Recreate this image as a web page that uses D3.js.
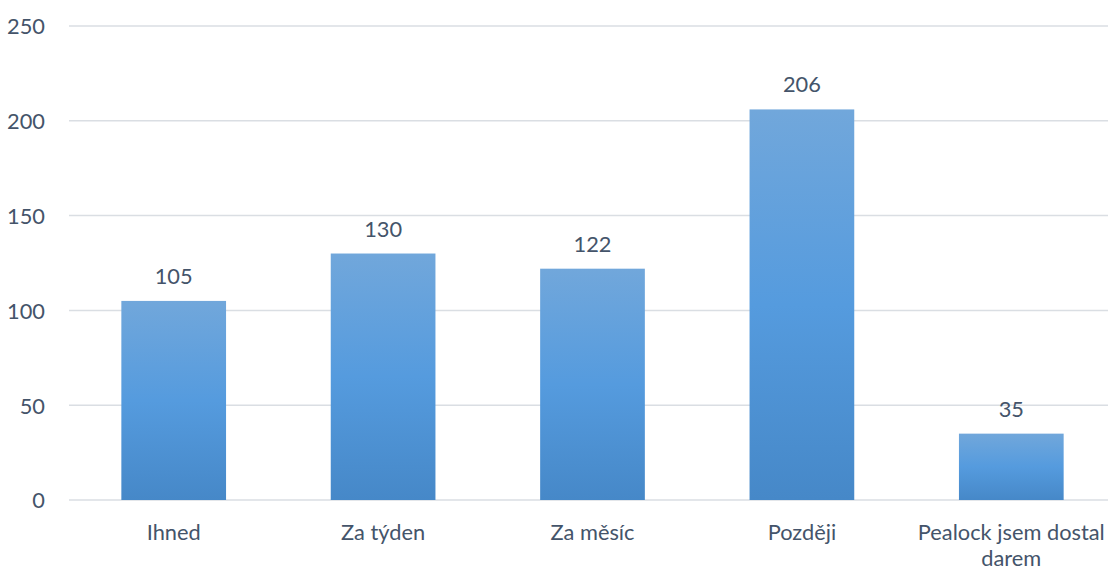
<!DOCTYPE html>
<html>
<head>
<meta charset="utf-8">
<script src="https://cdn.jsdelivr.net/npm/d3@7"></script>
<style>
  html, body { margin: 0; padding: 0; background: #fff; }
  svg { display: block; }
  text { font-family: Lato, "Open Sans", sans-serif; fill: #44546a; }
</style>
</head>
<body>
<svg id="chart" width="1108" height="572"></svg>
<script>
// Responses per category
const categories = ["Ihned", "Za týden", "Za měsíc", "Později", "Pealock jsem dostal darem"];
const values = [105, 130, 122, 206, 35];
const yTicks = [0, 50, 100, 150, 200, 250];

const width = 1108, height = 572;
const plot = { left: 69, right: 1116, top: 26, bottom: 500 };
const fontSize = 21.8;

const svg = d3.select("#chart");

const x = d3.scaleBand()
  .domain(categories)
  .range([plot.left, plot.right])
  .paddingInner(0.5)
  .paddingOuter(0.25);

const y = d3.scaleLinear()
  .domain([0, 250])
  .range([plot.bottom, plot.top]);

// Vertical gradient shared by all bars (objectBoundingBox units)
const defs = svg.append("defs");
const grad = defs.append("linearGradient")
  .attr("id", "barFill")
  .attr("x1", 0).attr("y1", 0).attr("x2", 0).attr("y2", 1);
grad.append("stop").attr("offset", "0%").attr("stop-color", "#71a7db");
grad.append("stop").attr("offset", "50%").attr("stop-color", "#559bde");
grad.append("stop").attr("offset", "100%").attr("stop-color", "#4688c8");

// Horizontal gridlines
svg.append("g")
  .selectAll("line")
  .data(yTicks)
  .join("line")
  .attr("x1", plot.left)
  .attr("x2", plot.right)
  .attr("y1", d => y(d))
  .attr("y2", d => y(d))
  .attr("stroke", "#dadee3")
  .attr("stroke-width", 1.5);

// Y axis labels
const yAxis = d3.axisLeft(y).tickValues(yTicks).tickSize(0).tickPadding(0);
const gy = svg.append("g")
  .attr("transform", `translate(${45},0)`)
  .call(yAxis);
gy.select(".domain").remove();
gy.selectAll("text")
  .attr("font-size", fontSize)
  .attr("font-family", null)
  .attr("dy", "0.36em")
  .attr("fill", "#44546a");

// Bars
svg.append("g")
  .selectAll("rect")
  .data(values)
  .join("rect")
  .attr("x", (d, i) => x(categories[i]))
  .attr("y", d => y(d))
  .attr("width", x.bandwidth())
  .attr("height", d => y(0) - y(d))
  .attr("fill", "url(#barFill)");

// Value labels above bars
svg.append("g")
  .selectAll("text")
  .data(values)
  .join("text")
  .attr("x", (d, i) => x(categories[i]) + x.bandwidth() / 2)
  .attr("y", d => y(d) - 17)
  .attr("text-anchor", "middle")
  .attr("font-size", fontSize)
  .text(d => d);

// Category labels, wrapped to fit the category slot
const step = x.step();
const catG = svg.append("g");
categories.forEach(c => {
  const t = catG.append("text")
    .attr("x", x(c) + x.bandwidth() / 2)
    .attr("y", 540)
    .attr("text-anchor", "middle")
    .attr("font-size", fontSize);
  const words = c.split(" ");
  let line = [];
  let tspan = t.append("tspan").attr("x", x(c) + x.bandwidth() / 2).attr("dy", 0);
  words.forEach(w => {
    line.push(w);
    tspan.text(line.join(" "));
    if (tspan.node().getComputedTextLength() > step - 8 && line.length > 1) {
      line.pop();
      tspan.text(line.join(" "));
      line = [w];
      tspan = t.append("tspan")
        .attr("x", x(c) + x.bandwidth() / 2)
        .attr("dy", 26)
        .text(w);
    }
  });
});
</script>
</body>
</html>
